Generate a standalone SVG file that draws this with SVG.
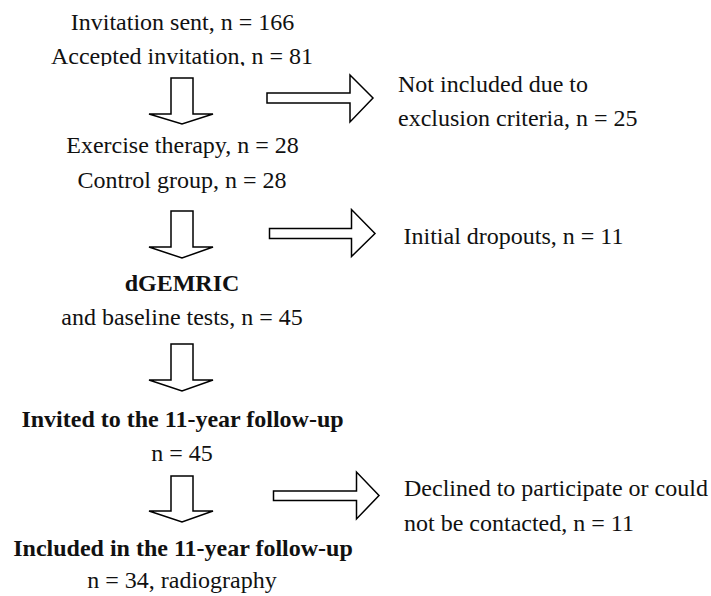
<svg xmlns="http://www.w3.org/2000/svg" width="711" height="596" viewBox="0 0 711 596">
<style>
text{font-family:"Liberation Serif","Times New Roman",serif;font-size:24px;fill:#111}
.c{text-anchor:middle}
.b{font-weight:bold}
.arr{fill:#fff;stroke:#000;stroke-width:1.5;stroke-linejoin:miter}
</style>
<defs>
<clipPath id="clipA"><rect x="0" y="0" width="711" height="66"/></clipPath>
</defs>
<rect width="711" height="596" fill="#fff"/>
<g id="node-start">
<text class="c" x="182.5" y="29.5">Invitation sent, n = 166</text>
<text class="c" x="182" y="63.5" clip-path="url(#clipA)">Accepted invitation, n = 81</text>
</g>
<g id="node-excluded">
<text x="398" y="92">Not included due to</text>
<text x="398" y="125.5">exclusion criteria, n = 25</text>
</g>
<g id="node-groups">
<text class="c" x="182.5" y="153">Exercise therapy, n = 28</text>
<text class="c" x="182" y="187.5">Control group, n = 28</text>
</g>
<g id="node-dropouts">
<text x="403.5" y="243.5">Initial dropouts, n = 11</text>
</g>
<g id="node-baseline">
<text class="c b" x="182" y="291">dGEMRIC</text>
<text class="c" x="182" y="325">and baseline tests, n = 45</text>
</g>
<g id="node-invited">
<text class="c b" x="182.5" y="427">Invited to the 11-year follow-up</text>
<text class="c" x="182" y="461">n = 45</text>
</g>
<g id="node-declined">
<text x="404" y="495.5">Declined to participate or could</text>
<text x="404" y="530.5">not be contacted, n = 11</text>
</g>
<g id="node-included">
<text class="c b" x="183" y="556">Included in the 11-year follow-up</text>
<text class="c" x="182" y="588">n = 34, radiography</text>
</g>
<g id="connectors">
<polygon class="arr" points="171,78 193,78 193,114 213,114 182,124 149,114 171,114"/>
<polygon class="arr" points="171,211 193,211 193,247 213,247 182,258 149,247 171,247"/>
<polygon class="arr" points="171,344 193,344 193,380 213,380 182,391 149,380 171,380"/>
<polygon class="arr" points="171,476 193,476 193,511 213,511 182,522 149,511 171,511"/>
<polygon class="arr" points="267,93 350,93 350,75 373,98 350,122 350,103 267,103"/>
<polygon class="arr" points="269.5,228.5 351.5,228.5 351.5,209.5 375,233.5 351.5,256.5 351.5,238.5 269.5,238.5"/>
<polygon class="arr" points="273.5,491 356.5,491 356.5,472 379,495.5 356.5,519 356.5,500.5 273.5,500.5"/>
</g>
</svg>
